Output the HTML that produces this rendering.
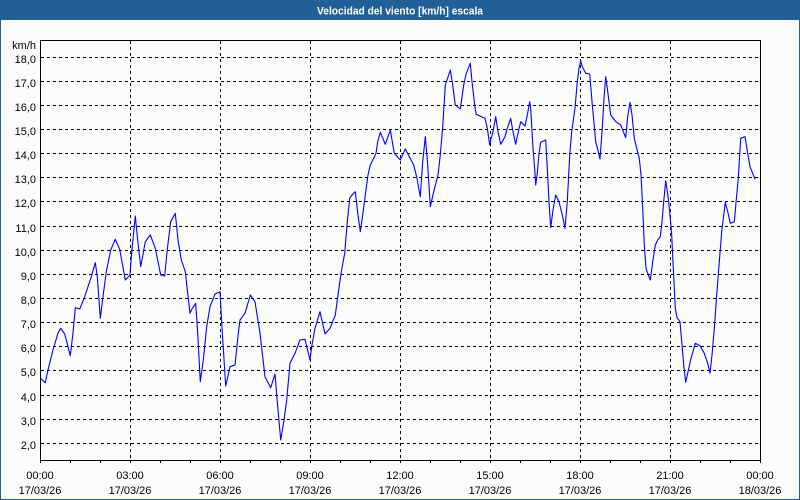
<!DOCTYPE html>
<html><head><meta charset="utf-8"><style>
html,body{margin:0;padding:0;width:800px;height:500px;overflow:hidden;background:#fbfdfb;}
svg{display:block;}
text{font-family:"Liberation Sans","DejaVu Sans",sans-serif;font-size:11px;fill:#000;}
</style></head><body>
<svg width="800" height="500" viewBox="0 0 800 500" xmlns="http://www.w3.org/2000/svg">
<rect x="0" y="0" width="800" height="500" fill="#fbfdfb"/>
<rect x="0.5" y="0.5" width="799" height="499" fill="none" stroke="#215f96" stroke-width="1"/>
<rect x="0" y="0" width="800" height="20" fill="#215f96"/>
<text x="400" y="14.5" text-anchor="middle" style="font-weight:bold;fill:#fff;font-size:11px" textLength="166" lengthAdjust="spacingAndGlyphs">Velocidad del viento [km/h] escala</text>

<g stroke="#000" stroke-width="1" stroke-dasharray="3,3" fill="none">
<line x1="41" x2="760" y1="57.5" y2="57.5"/>
<line x1="41" x2="760" y1="81.5" y2="81.5"/>
<line x1="41" x2="760" y1="105.5" y2="105.5"/>
<line x1="41" x2="760" y1="129.5" y2="129.5"/>
<line x1="41" x2="760" y1="153.5" y2="153.5"/>
<line x1="41" x2="760" y1="177.5" y2="177.5"/>
<line x1="41" x2="760" y1="201.5" y2="201.5"/>
<line x1="41" x2="760" y1="226.5" y2="226.5"/>
<line x1="41" x2="760" y1="250.5" y2="250.5"/>
<line x1="41" x2="760" y1="274.5" y2="274.5"/>
<line x1="41" x2="760" y1="298.5" y2="298.5"/>
<line x1="41" x2="760" y1="322.5" y2="322.5"/>
<line x1="41" x2="760" y1="346.5" y2="346.5"/>
<line x1="41" x2="760" y1="370.5" y2="370.5"/>
<line x1="41" x2="760" y1="395.5" y2="395.5"/>
<line x1="41" x2="760" y1="419.5" y2="419.5"/>
<line x1="41" x2="760" y1="443.5" y2="443.5"/>
<line y1="41" y2="460" x1="130.5" x2="130.5"/>
<line y1="41" y2="460" x1="220.5" x2="220.5"/>
<line y1="41" y2="460" x1="310.5" x2="310.5"/>
<line y1="41" y2="460" x1="400.5" x2="400.5"/>
<line y1="41" y2="460" x1="490.5" x2="490.5"/>
<line y1="41" y2="460" x1="580.5" x2="580.5"/>
<line y1="41" y2="460" x1="670.5" x2="670.5"/>
</g>

<rect x="40.5" y="40.5" width="720" height="420" fill="none" stroke="#000" stroke-width="1"/>

<g stroke="#000" stroke-width="1">
<line x1="40.5" x2="40.5" y1="460" y2="463"/>
<line x1="70.5" x2="70.5" y1="460" y2="463"/>
<line x1="100.5" x2="100.5" y1="460" y2="463"/>
<line x1="130.5" x2="130.5" y1="460" y2="463"/>
<line x1="160.5" x2="160.5" y1="460" y2="463"/>
<line x1="190.5" x2="190.5" y1="460" y2="463"/>
<line x1="220.5" x2="220.5" y1="460" y2="463"/>
<line x1="250.5" x2="250.5" y1="460" y2="463"/>
<line x1="280.5" x2="280.5" y1="460" y2="463"/>
<line x1="310.5" x2="310.5" y1="460" y2="463"/>
<line x1="340.5" x2="340.5" y1="460" y2="463"/>
<line x1="370.5" x2="370.5" y1="460" y2="463"/>
<line x1="400.5" x2="400.5" y1="460" y2="463"/>
<line x1="430.5" x2="430.5" y1="460" y2="463"/>
<line x1="460.5" x2="460.5" y1="460" y2="463"/>
<line x1="490.5" x2="490.5" y1="460" y2="463"/>
<line x1="520.5" x2="520.5" y1="460" y2="463"/>
<line x1="550.5" x2="550.5" y1="460" y2="463"/>
<line x1="580.5" x2="580.5" y1="460" y2="463"/>
<line x1="610.5" x2="610.5" y1="460" y2="463"/>
<line x1="640.5" x2="640.5" y1="460" y2="463"/>
<line x1="670.5" x2="670.5" y1="460" y2="463"/>
<line x1="700.5" x2="700.5" y1="460" y2="463"/>
<line x1="730.5" x2="730.5" y1="460" y2="463"/>
<line x1="760.5" x2="760.5" y1="460" y2="463"/>
</g>

<g text-anchor="end">
<text x="36" y="49">km/h</text>
<text x="36" y="63">18,0</text>
<text x="36" y="87">17,0</text>
<text x="36" y="111">16,0</text>
<text x="36" y="135">15,0</text>
<text x="36" y="159">14,0</text>
<text x="36" y="183">13,0</text>
<text x="36" y="207">12,0</text>
<text x="36" y="232">11,0</text>
<text x="36" y="256">10,0</text>
<text x="36" y="280">9,0</text>
<text x="36" y="304">8,0</text>
<text x="36" y="328">7,0</text>
<text x="36" y="352">6,0</text>
<text x="36" y="376">5,0</text>
<text x="36" y="401">4,0</text>
<text x="36" y="425">3,0</text>
<text x="36" y="449">2,0</text>
</g>

<g text-anchor="middle">
<text x="40" y="479">00:00</text><text x="40" y="494">17/03/26</text>
<text x="130" y="479">03:00</text><text x="130" y="494">17/03/26</text>
<text x="220" y="479">06:00</text><text x="220" y="494">17/03/26</text>
<text x="310" y="479">09:00</text><text x="310" y="494">17/03/26</text>
<text x="400" y="479">12:00</text><text x="400" y="494">17/03/26</text>
<text x="490" y="479">15:00</text><text x="490" y="494">17/03/26</text>
<text x="580" y="479">18:00</text><text x="580" y="494">17/03/26</text>
<text x="670" y="479">21:00</text><text x="670" y="494">17/03/26</text>
<text x="760" y="479">00:00</text><text x="760" y="494">18/03/26</text>
</g>

<polyline fill="none" stroke="#0000ff" stroke-width="1.1" stroke-linejoin="round" points="
40.7,378.3 45.3,382.7 48,370 53,350 58,333 60.7,328.3 64.7,334 68,346.7 70.3,355.7 73,333 75.3,307.7 79.7,309 84.7,296.7 91.3,276.7 95.3,262.7 97.3,276.7 100.3,318.3 103,296.7 106.3,271.7 110.7,250 115.3,239.3 119.7,249.3 125.3,280 130,275 131.3,256.7 135.3,216 137.3,236.7 140.7,266.7 145.3,241.7 150.3,235 155.3,248.3 160.7,275 164.7,276 167.3,249.3 170.7,221.7 175.3,213.3 178,240 181.3,260 185.3,271.7
187.7,293.3 190,313.3 192.3,308.3 195.7,303.3 197.7,333.3 200.3,381.7 203.3,360 206.7,326.7 210,306.7 215,294 220,291.7 221.7,323.3 225.7,386 230,366.7 235,365 238.3,333.3 240,320 245,313.3 250.3,295 255,301.7 260,333.3 265,376.7 270.7,387.7 275,374 277.7,406.7 280.7,440 284,420 286.7,400 290,363.3 295,353.3 300,340 305,339.3 310,360 311.7,346.7 315,328.3 320,311.7 325,334 330,328.3
335.3,315 338,295 341.3,271.7 344.7,253.3 347,225 349.7,198.3 352,195 355.3,191.7 358,215 360.3,231.7 362.7,215 365.3,195 368,175 370.3,165 373.7,158.3 376,153.3 377.7,141.7 380.3,132.3 385.3,144.3 390.3,130 394.3,153.3 400.3,160 405.3,149 409.3,156.7 413.7,165 417,178.3 418.7,188.3 420.3,196.7 422.7,161.7 425.3,136.7 427.7,165 430.3,206.7 433.7,191.7 438,175 440.3,155 442.7,126.7 445.3,85 448.7,75 450.3,70 452.7,85 455.3,105 460.3,109 463.7,85 466.3,73.3 470.3,63.3 472,81.7 474.7,105 476,114.3 482,117
485,118.3 487.3,128.3 489.7,145 490.7,140 493,131.7 495.7,116.7 498,131.7 500.7,144.3 505,136.7 507.3,128.3 510.7,118.3 513,131.7 515.7,144.3 518.3,131.7 520.7,121.7 525,126 527.3,115 529.7,101.7 530.7,108.3 533,148.3 535,173.3 535.7,185 537.3,173.3 539,153.3 540.7,142.3 545.7,140 547.3,168.3 549,201.7 550.7,227.7 553,210 555.7,195 559,201.7 562.3,215 565,228.3 567.3,201.7 569.7,155 571.7,131.7 575,108.3 577.3,81.7 579,68.3 580.7,61 582.3,66.7 585.7,73.3 589.7,74 592.3,105 595.7,141.7 598.3,151.7 600,159 602.3,128.3 604,98.3 605.7,76.7 607.3,88.3 610.7,115 615.7,121.7 620.7,125 625.7,137.7
627.7,116.7 630,102.3 632,115 634.3,138.3 636.7,148.3 639.3,158.3 641,175 642.7,208.3 644.3,245 646,268.3 648.3,275 650.3,280 652.7,261.7 655.3,245 657.7,240 660.3,236.7 662,221.7 663.7,201.7 665.7,180.7 667.3,191.7 668.7,201.7 670.3,218.3 671.7,235 673.3,268.3 675.3,308.3 677,317.7 680,321.7 682,345 683.7,365 685.7,382.3 687.7,373.3 691,358.3 695.3,343.3 700,345.7 704.3,353.3 707.7,363.3 710,373.3 712,355 714.3,328.3 716.7,295 719.3,261.7 721.7,231.7 723.3,218.3 725.3,202.3 727.7,211.7 730.3,223.3 734.3,221.7 736.7,195 738.3,178.3 740.7,138.3 745,136.7 747.7,153.3 750,166.7 752.7,173.3 755,179.3"/>
</svg>
</body></html>
